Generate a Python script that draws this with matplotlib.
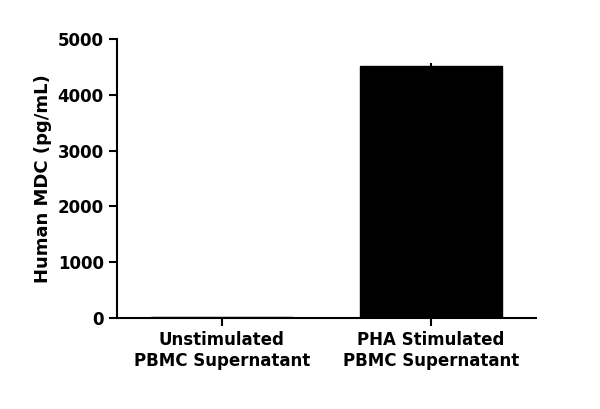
import matplotlib
matplotlib.use("Agg")
import matplotlib.pyplot as plt

categories = ["Unstimulated\nPBMC Supernatant", "PHA Stimulated\nPBMC Supernatant"]
values = [20, 4520]
errors = [5, 40]
yticks = [0, 1000, 2000, 3000, 4000, 5000]

fig = plt.figure(figsize=(6, 4.09), dpi=100)
ax = fig.add_axes([0.195, 0.2225, 0.698, 0.6825])
x = list(range(len(categories)))
ax.bar(x, values, width=0.675, color="black", edgecolor="black")
ax.errorbar(x, values, yerr=[[0, 0], errors], fmt="none", ecolor="black", capsize=0, elinewidth=1.5)
ax.set_xlim(-0.5, 1.5)
ax.set_ylim(0, 5000)
ax.set_yticks(yticks)
ax.set_xticks(x)
ax.set_xticklabels(categories, fontsize=12, fontweight="bold")
for lab in ax.get_yticklabels():
    lab.set_fontsize(12); lab.set_fontweight("bold")
ax.set_ylabel("Human MDC (pg/mL)", fontsize=13, fontweight="bold")
for s in ["top", "right"]:
    ax.spines[s].set_visible(False)
for s in ["left", "bottom"]:
    ax.spines[s].set_linewidth(1.5)
ax.tick_params(width=1.5, length=6)
fig.savefig("out.png", dpi=100)
